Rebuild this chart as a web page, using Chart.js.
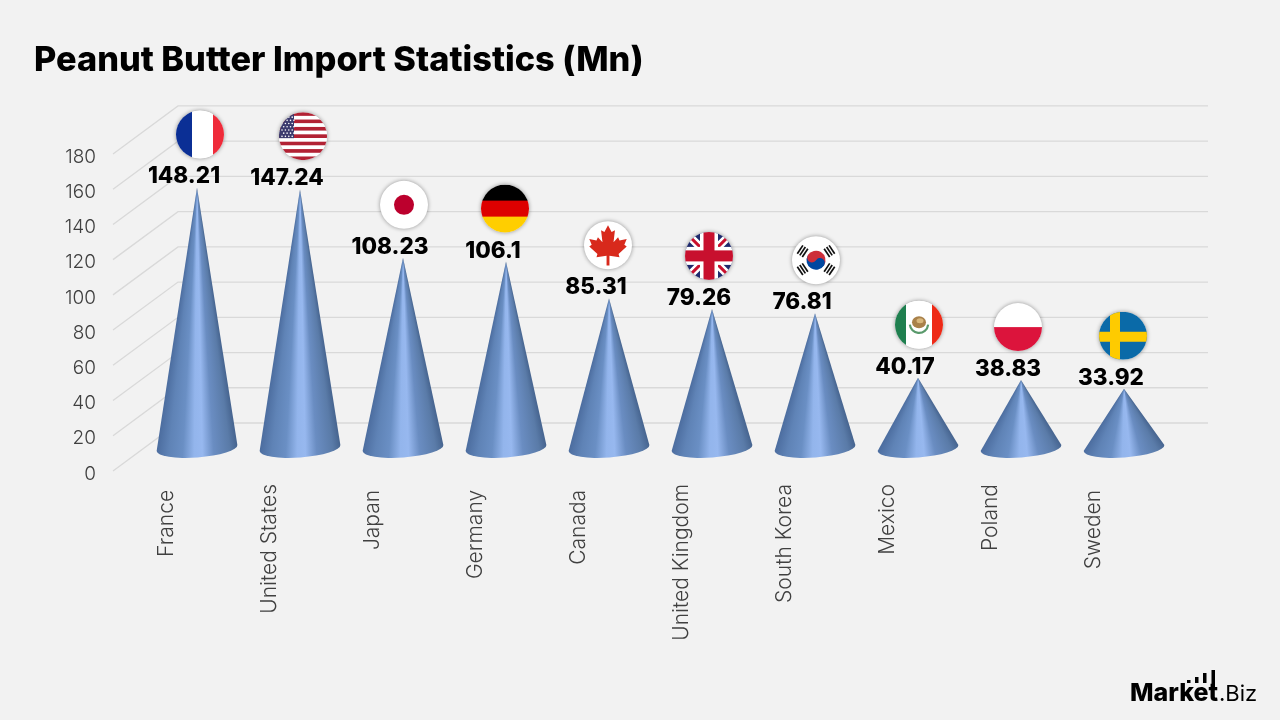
<!DOCTYPE html>
<html lang="en">
<head>
  <meta charset="UTF-8">
  <title>Peanut Butter Import Statistics</title>
  <script src="https://cdn.jsdelivr.net/npm/chart.js"></script>
  <style>
    html, body { margin: 0; padding: 0; background: #f2f2f2; }
    canvas { display: block; }
  </style>
</head>
<body>
  <canvas id="chart" width="1280" height="720"></canvas>
  <script>
    const countries = ["France", "United States", "Japan", "Germany", "Canada", "United Kingdom", "South Korea", "Mexico", "Poland", "Sweden"];
    const imports = [148.21, 147.24, 108.23, 106.1, 85.31, 79.26, 76.81, 40.17, 38.83, 33.92];
    const yTicks = [0, 20, 40, 60, 80, 100, 120, 140, 160, 180];

    const FONT = "Inter, 'Open Sans', sans-serif";
    // depth of the fake 3D box: back wall sits this far from the front plane
    const DEPTH_X = 65;
    const DEPTH_Y = -48;

    function circleFlag(ctx, x, y, r, paint) {
      ctx.save();
      ctx.shadowColor = "rgba(0,0,0,0.4)";
      ctx.shadowBlur = 4;
      ctx.fillStyle = "#fff";
      ctx.beginPath();
      ctx.arc(x, y, r, 0, Math.PI * 2);
      ctx.fill();
      ctx.restore();
      ctx.save();
      ctx.beginPath();
      ctx.arc(x, y, r, 0, Math.PI * 2);
      ctx.clip();
      ctx.translate(x, y);
      paint(ctx, r);
      ctx.restore();
    }

    function vStripes(ctx, r, stops) {
      stops.forEach(([from, to, color]) => {
        ctx.fillStyle = color;
        ctx.fillRect(from, -r, to - from, r * 2);
      });
    }

    function polygon(ctx, pts, r) {
      ctx.beginPath();
      pts.forEach(([a, b], i) => (i ? ctx.lineTo(a * r, b * r) : ctx.moveTo(a * r, b * r)));
      ctx.closePath();
      ctx.fill();
    }

    const flags = {
      "France": (ctx, r) => vStripes(ctx, r, [[-r, -8, "#0b2f95"], [-8, 13, "#fff"], [13, r, "#ef2b3a"]]),
      "United States": (ctx, r) => {
        const h = r * 2 / 13;
        for (let i = 0; i < 13; i++) {
          ctx.fillStyle = i % 2 ? "#fff" : "#b22234";
          ctx.fillRect(-r, -r + i * h, r * 2, h + 0.3);
        }
        ctx.fillStyle = "#3c3b6e";
        ctx.fillRect(-r, -r, 15, 26);
        ctx.fillStyle = "#fff";
        for (let row = 0; row < 7; row++) {
          for (let col = 0; col < 4; col++) {
            ctx.beginPath();
            ctx.arc(-r + 3 + col * 3.4 + (row % 2) * 1.7, -r + 5 + row * 3.2, 0.8, 0, Math.PI * 2);
            ctx.fill();
          }
        }
      },
      "Japan": (ctx) => {
        ctx.fillStyle = "#bc002d";
        ctx.beginPath();
        ctx.arc(0, 0, 10, 0, Math.PI * 2);
        ctx.fill();
      },
      "Germany": (ctx, r) => {
        [["#000", -r], ["#dd0000", -r / 3], ["#ffce00", r / 3]].forEach(([c, top]) => {
          ctx.fillStyle = c;
          ctx.fillRect(-r, top, r * 2, r * 2 / 3 + 0.5);
        });
      },
      "Canada": (ctx, r) => {
        const right = [[0, -0.83], [0.15, -0.55], [0.29, -0.62], [0.23, -0.12], [0.42, -0.33], [0.48, -0.2], [0.78, -0.26], [0.68, -0.02], [0.78, 0.05], [0.44, 0.36], [0.48, 0.5], [0.06, 0.44], [0.06, 0.84]];
        const left = right.slice().reverse().map(([a, b]) => [-a, b]);
        ctx.fillStyle = "#d8291c";
        polygon(ctx, right.concat(left), r);
      },
      "United Kingdom": (ctx, r) => {
        ctx.fillStyle = "#1f2a6d";
        ctx.fillRect(-r, -r, r * 2, r * 2);
        ctx.lineCap = "butt";
        ctx.strokeStyle = "#fff";
        ctx.lineWidth = 8;
        ctx.beginPath();
        ctx.moveTo(-r, -r); ctx.lineTo(r, r);
        ctx.moveTo(r, -r); ctx.lineTo(-r, r);
        ctx.stroke();
        ctx.strokeStyle = "#c8102e";
        ctx.lineWidth = 3;
        ctx.stroke();
        ctx.fillStyle = "#fff";
        ctx.fillRect(-r, -9, r * 2, 18);
        ctx.fillRect(-9, -r, 18, r * 2);
        ctx.fillStyle = "#c8102e";
        ctx.fillRect(-r, -5.5, r * 2, 11);
        ctx.fillRect(-5.5, -r, 11, r * 2);
      },
      "South Korea": (ctx) => {
        ctx.save();
        ctx.rotate(0.55);
        ctx.fillStyle = "#cd2e3a";
        ctx.beginPath(); ctx.arc(0, 0, 9.5, Math.PI, 0); ctx.fill();
        ctx.fillStyle = "#0047a0";
        ctx.beginPath(); ctx.arc(0, 0, 9.5, 0, Math.PI); ctx.fill();
        ctx.beginPath(); ctx.arc(4.75, 0, 4.75, 0, Math.PI * 2); ctx.fill();
        ctx.fillStyle = "#cd2e3a";
        ctx.beginPath(); ctx.arc(-4.75, 0, 4.75, 0, Math.PI * 2); ctx.fill();
        ctx.restore();
        // four trigrams around the centre
        ctx.fillStyle = "#111";
        [-0.98, 0.98, Math.PI - 0.98, Math.PI + 0.98].forEach((a) => {
          ctx.save();
          ctx.rotate(a);
          [-20, -17, -14].forEach((y) => ctx.fillRect(-5, y, 10, 1.7));
          ctx.restore();
        });
      },
      "Mexico": (ctx, r) => {
        vStripes(ctx, r, [[-r, -13, "#1f7f4f"], [-13, 13, "#fff"], [13, r, "#ee2a17"]]);
        ctx.strokeStyle = "#5a9a6c";
        ctx.lineWidth = 2.2;
        ctx.beginPath();
        ctx.arc(0, -1, 9.2, 0.1, Math.PI - 0.1);
        ctx.stroke();
        ctx.fillStyle = "#a9814a";
        ctx.beginPath();
        ctx.ellipse(0, -2.5, 7, 6, 0, 0, Math.PI * 2);
        ctx.fill();
        ctx.fillStyle = "#d9b77c";
        ctx.beginPath();
        ctx.ellipse(1, -4, 3.5, 2.5, 0, 0, Math.PI * 2);
        ctx.fill();
      },
      "Poland": (ctx, r) => {
        ctx.fillStyle = "#dc143c";
        ctx.fillRect(-r, 0, r * 2, r);
      },
      "Sweden": (ctx, r) => {
        ctx.fillStyle = "#0a6aa8";
        ctx.fillRect(-r, -r, r * 2, r * 2);
        ctx.fillStyle = "#fecb00";
        ctx.fillRect(-13, -r, 10, r * 2);
        ctx.fillRect(-r, -4, r * 2, 10);
      }
    };
    // small sideways offset of each flag from its cone's tip
    const flagNudge = [3, 3, 1, -1, -1, -3, 1, 1, -3, -1];
    // these names sit a touch lower under the axis
    const lowered = ["France", "Japan", "Germany", "Canada", "Sweden"];

    const backdrop = {
      id: "backdrop",
      beforeDraw(chart) {
        const { ctx, width, height } = chart;
        ctx.fillStyle = "#f2f2f2";
        ctx.fillRect(0, 0, width, height);
      },
      // walls: a diagonal from each front tick, then a line along the back
      beforeDatasetsDraw(chart) {
        const { ctx, scales: { x, y } } = chart;
        ctx.save();
        ctx.strokeStyle = "#d9d9d9";
        ctx.lineWidth = 1.3;
        yTicks.forEach((v) => {
          const py = y.getPixelForValue(v);
          ctx.beginPath();
          ctx.moveTo(x.left, py);
          ctx.lineTo(x.left + DEPTH_X, py + DEPTH_Y);
          ctx.lineTo(x.right + DEPTH_X, py + DEPTH_Y);
          ctx.stroke();
        });
        ctx.restore();
      }
    };

    const cones = {
      id: "cones",
      afterDatasetsDraw(chart) {
        const { ctx } = chart;
        const bars = chart.getDatasetMeta(0).data;
        bars.forEach((bar, i) => {
          const cx = bar.x + DEPTH_X / 2;
          const tipY = bar.y + DEPTH_Y / 2 + 1.5;
          const baseY = bar.base + DEPTH_Y / 2 + 1;
          const rx = bar.width / 2;
          const ry = 9.5;
          const tilt = 0.075;
          const rightX = cx + rx * Math.cos(tilt), rightY = baseY - rx * Math.sin(tilt);
          const leftX = cx - rx * Math.cos(tilt), leftY = baseY + rx * Math.sin(tilt);

          const a1 = Math.atan2(rightY - tipY, rightX - cx);
          const a2 = Math.atan2(leftY - tipY, leftX - cx);
          const span = (a2 - a1) / (Math.PI * 2);
          const grad = ctx.createConicGradient(a1, cx, tipY);
          [[0, "#46648f"], [0.1, "#5a7ba8"], [0.3, "#6a8dc2"], [0.44, "#97b8ef"], [0.54, "#93b5ec"], [0.68, "#6a8fc4"], [0.85, "#5f83b6"], [1, "#4c6d9f"]]
            .forEach(([s, c]) => grad.addColorStop(s * span, c));
          grad.addColorStop(1, "#46648f");

          ctx.save();
          ctx.fillStyle = grad;
          ctx.beginPath();
          ctx.moveTo(cx, tipY);
          ctx.lineTo(rightX, rightY);
          ctx.ellipse(cx, baseY, rx, ry, -tilt, 0, Math.PI);
          ctx.closePath();
          ctx.fill();
          ctx.restore();

          // value above the tip, flag above the value
          ctx.save();
          ctx.font = "800 22.5px " + FONT;
          ctx.fillStyle = "#000";
          ctx.textAlign = "center";
          ctx.textBaseline = "alphabetic";
          ctx.fillText(String(imports[i]), cx - 13, tipY - 4);
          ctx.restore();

          circleFlag(ctx, cx + flagNudge[i], tipY - 53, 24, flags[countries[i]]);
        });
      },
      afterDraw(chart) {
        // brand mark, bottom right
        const { ctx } = chart;
        ctx.save();
        ctx.fillStyle = "#000";
        ctx.textBaseline = "alphabetic";
        ctx.font = "800 25px " + FONT;
        ctx.fillText("Market", 1130, 701);
        const w = ctx.measureText("Market").width;
        ctx.font = "400 22px " + FONT;
        ctx.fillText(".Biz", 1131 + w, 701);
        ctx.fillRect(1187, 680, 3.5, 3);
        ctx.fillRect(1195, 677, 3.5, 6);
        ctx.fillRect(1203, 673, 3.5, 10);
        ctx.fillRect(1211.5, 670, 3.5, 20);
        ctx.restore();
      }
    };

    new Chart(document.getElementById("chart"), {
      type: "bar",
      data: {
        labels: countries,
        datasets: [{
          data: imports,
          backgroundColor: "transparent",
          categoryPercentage: 1,
          barPercentage: 0.786
        }]
      },
      options: {
        responsive: false,
        animation: false,
        layout: { padding: { left: 34, right: 137, top: 0, bottom: 0 } },
        plugins: {
          legend: { display: false },
          tooltip: { enabled: false },
          title: {
            display: true,
            text: "Peanut Butter Import Statistics (Mn)",
            align: "start",
            color: "#000",
            font: { family: FONT, size: 34.3, weight: "800", lineHeight: 1.2 },
            padding: { top: 40.4, bottom: 72.4 }
          }
        },
        scales: {
          x: {
            grid: { display: false },
            border: { display: false },
            afterFit(scale) { scale.height = 249; },
            ticks: {
              minRotation: 90,
              maxRotation: 90,
              autoSkip: false,
              padding: 5,
              labelOffset: 2,
              color: "#404040",
              font: { family: FONT, size: 21, weight: "300" },
              callback(value) {
                const name = this.getLabelForValue(value);
                return lowered.includes(name) ? name + "\u00a0" : name;
              }
            }
          },
          y: {
            min: 0,
            max: 180,
            afterFit(scale) { scale.width = 79; },
            grid: { display: false, drawTicks: false },
            border: { display: false },
            ticks: {
              stepSize: 20,
              padding: 17,
              labelOffset: 3,
              color: "#404040",
              font: { family: FONT, size: 19, weight: "300" }
            }
          }
        }
      },
      plugins: [backdrop, cones]
    });
  </script>
</body>
</html>
